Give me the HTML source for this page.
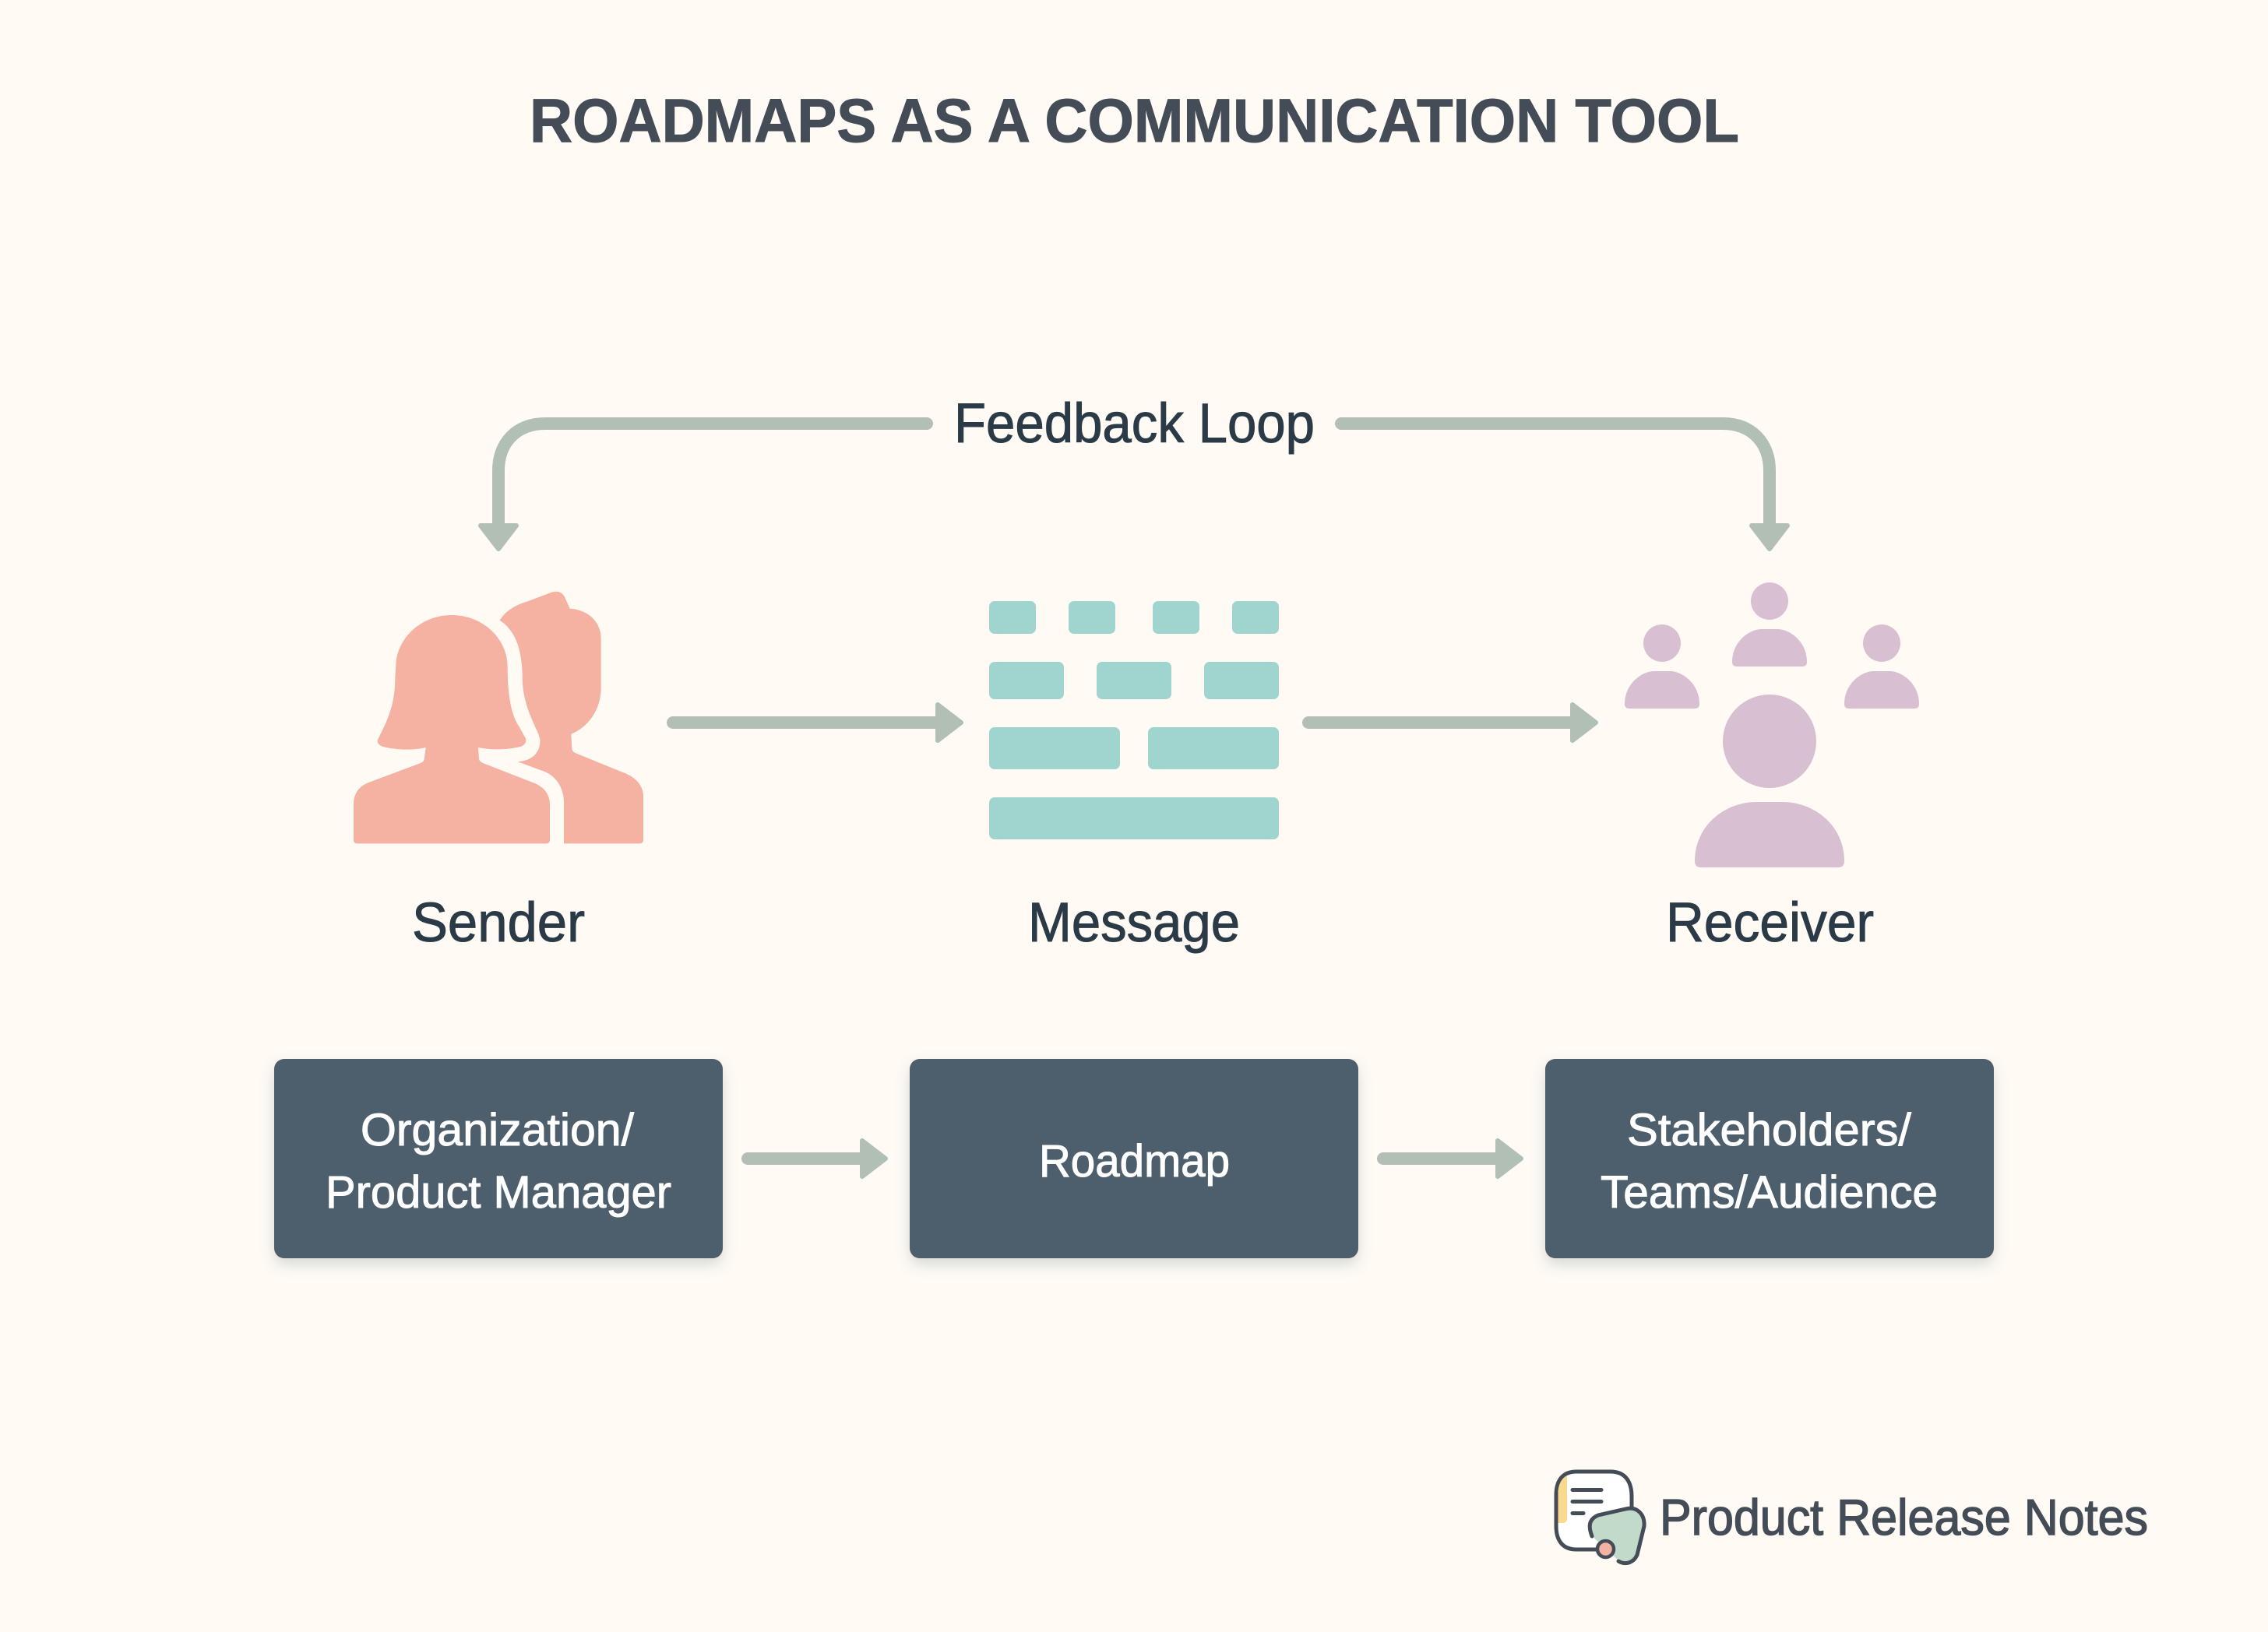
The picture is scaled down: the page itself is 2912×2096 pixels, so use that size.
<!DOCTYPE html>
<html lang="en">
<head>
<meta charset="utf-8">
<title>Roadmaps as a Communication Tool</title>
<style>
html,body{margin:0;padding:0;background:#FFFBF4;width:2912px;height:2096px;overflow:hidden}
svg{display:block}
text{font-family:"Liberation Sans",sans-serif}
</style>
</head>
<body>
<svg xmlns="http://www.w3.org/2000/svg" width="2912" height="2096" viewBox="0 0 2912 2096">
<defs>
<filter id="sh" x="-10%" y="-15%" width="120%" height="135%">
<feDropShadow dx="0" dy="8" stdDeviation="9" flood-color="#4D5E6C" flood-opacity="0.22"/>
</filter>
</defs>
<rect width="2912" height="2096" fill="#FFFBF4"/>

<text x="680" y="182" font-size="79" font-weight="700" fill="#444C57" stroke="#444C57" stroke-width="1" textLength="1553" lengthAdjust="spacingAndGlyphs">ROADMAPS AS A COMMUNICATION TOOL</text>

<!-- Feedback loop -->
<g fill="none" stroke="#B2BFB5" stroke-width="16" stroke-linecap="round">
<path d="M1190 544 L700 544 C662 544 640 570 640 604 L640 680" stroke-linecap="butt"/>
<path d="M1190 544 L1190 544"/>
<path d="M1722 544 L2212 544 C2250 544 2272 570 2272 604 L2272 680" stroke-linecap="butt"/>
<path d="M1722 544 L1722 544"/>
</g>
<g fill="#B2BFB5" stroke="#B2BFB5" stroke-width="6" stroke-linejoin="round">
<path d="M617 675 L663 675 L640 705 Z"/>
<path d="M2249 675 L2295 675 L2272 705 Z"/>
</g>
<text x="1225" y="568" font-size="71" fill="#2B3A47" stroke="#2B3A47" stroke-width="1" textLength="463" lengthAdjust="spacingAndGlyphs">Feedback Loop</text>

<!-- Sender icon -->
<g transform="translate(400 720) scale(0.33333)" fill="#F5B1A1">
<path d="M540 210 C660 210 755 300 755 410 C755 500 765 590 800 640 L825 685 Q830 705 810 715 C760 730 690 730 642 720 L645 765 Q648 775 660 780 L860 858 C900 875 918 905 918 940 L918 1075 Q918 1090 903 1090 L177 1090 Q162 1090 162 1075 L162 940 C162 900 180 870 220 855 L420 780 Q433 775 434 765 L440 720 C390 732 320 730 270 715 Q250 705 255 690 C290 620 322 560 322 450 L325 400 C330 300 420 210 540 210 Z"/>
<path d="M725 230 C750 190 790 170 830 158 L925 122 Q960 112 975 140 L995 185 C1070 190 1115 240 1115 300 L1115 490 C1115 570 1070 640 1000 668 L1003 725 Q1005 738 1020 743 L1210 820 C1255 840 1278 870 1278 910 L1278 1075 Q1278 1090 1263 1090 L972 1090 L972 930 C970 870 940 830 895 812 L795 775 C850 770 882 740 880 690 C875 650 810 570 812 440 C810 340 785 270 725 230 Z"/>
</g>

<!-- Message icon -->
<g fill="#A0D5CF">
<rect x="1270" y="772" width="60" height="42" rx="7"/>
<rect x="1372" y="772" width="60" height="42" rx="7"/>
<rect x="1480" y="772" width="60" height="42" rx="7"/>
<rect x="1582" y="772" width="60" height="42" rx="7"/>
<rect x="1270" y="850" width="96" height="48" rx="7"/>
<rect x="1408" y="850" width="96" height="48" rx="7"/>
<rect x="1546" y="850" width="96" height="48" rx="7"/>
<rect x="1270" y="934" width="168" height="54" rx="7"/>
<rect x="1474" y="934" width="168" height="54" rx="7"/>
<rect x="1270" y="1024" width="372" height="54" rx="7"/>
</g>

<!-- Receiver icon -->
<g fill="#D8BFD1">
<circle cx="2272" cy="772" r="24"/>
<path d="M2224 850 C2224 825 2245 808 2262 808 L2282 808 C2299 808 2320 825 2320 850 Q2320 856 2314 856 L2230 856 Q2224 856 2224 850 Z"/>
<circle cx="2134" cy="826" r="24"/>
<path d="M2086 904 C2086 879 2107 862 2124 862 L2144 862 C2161 862 2182 879 2182 904 Q2182 910 2176 910 L2092 910 Q2086 910 2086 904 Z"/>
<circle cx="2416" cy="826" r="24"/>
<path d="M2368 904 C2368 879 2389 862 2406 862 L2426 862 C2443 862 2464 879 2464 904 Q2464 910 2458 910 L2374 910 Q2368 910 2368 904 Z"/>
<circle cx="2272" cy="952" r="60"/>
<path d="M2176 1106 C2176 1060 2215 1030 2255 1030 L2289 1030 C2329 1030 2368 1060 2368 1106 Q2368 1114 2360 1114 L2184 1114 Q2176 1114 2176 1106 Z"/>
</g>

<!-- Horizontal arrows -->
<g fill="none" stroke="#B2BFB5" stroke-width="16" stroke-linecap="round">
<path d="M864 928 L1210 928"/>
<path d="M1680 928 L2025 928"/>
<path d="M960 1488 L1115 1488"/>
<path d="M1776 1488 L1930 1488"/>
</g>
<g fill="#B2BFB5" stroke="#B2BFB5" stroke-width="6" stroke-linejoin="round">
<path d="M1204 905 L1234 928 L1204 951 Z"/>
<path d="M2019 905 L2049 928 L2019 951 Z"/>
<path d="M1107 1465 L1137 1488 L1107 1511 Z"/>
<path d="M1923 1465 L1953 1488 L1923 1511 Z"/>
</g>

<!-- Labels -->
<g font-size="71" fill="#2B3A47" stroke="#2B3A47" stroke-width="1">
<text x="529" y="1209" textLength="222" lengthAdjust="spacingAndGlyphs">Sender</text>
<text x="1320" y="1209" textLength="272" lengthAdjust="spacingAndGlyphs">Message</text>
<text x="2139" y="1209" textLength="267" lengthAdjust="spacingAndGlyphs">Receiver</text>
</g>

<!-- Boxes -->
<g fill="#4D5E6C" filter="url(#sh)">
<rect x="352" y="1360" width="576" height="256" rx="13"/>
<rect x="1168" y="1360" width="576" height="256" rx="13"/>
<rect x="1984" y="1360" width="576" height="256" rx="13"/>
</g>
<g font-size="58" fill="#FFFFFF" stroke="#FFFFFF" stroke-width="1">
<text x="463" y="1471" textLength="351" lengthAdjust="spacingAndGlyphs">Organization/</text>
<text x="418" y="1551" textLength="444" lengthAdjust="spacingAndGlyphs">Product Manager</text>
<text x="1334" y="1511" textLength="245" lengthAdjust="spacingAndGlyphs">Roadmap</text>
<text x="2089" y="1471" textLength="365" lengthAdjust="spacingAndGlyphs">Stakeholders/</text>
<text x="2055" y="1551" textLength="433" lengthAdjust="spacingAndGlyphs">Teams/Audience</text>
</g>

<!-- Logo -->
<path d="M2024 1890 L2068 1890 C2086 1890 2095 1902 2095 1922 L2095 1960 C2095 1978 2090 1990 2068 1990 L2024 1990 C2006 1990 1998 1978 1998 1960 L1998 1920 C1998 1902 2006 1890 2024 1890 Z" fill="#FFFFFF" stroke="#444C57" stroke-width="5"/>
<path d="M2000.5 1956 L2006 1956 Q2012 1956 2012 1950 L2012 1895 Q2002 1900 2000.5 1915 Z" fill="#FAD98F"/>
<g stroke="#444C57" stroke-width="5" stroke-linecap="round" fill="none">
<path d="M2019 1913.5 L2056 1913.5"/>
<path d="M2019 1928.5 L2056 1928.5"/>
<path d="M2019 1943.5 L2033 1943.5"/>
</g>
<path d="M2044 1973 C2039 1960 2040 1951 2052 1946 L2086 1939 C2102 1934 2112 1945 2111 1960 L2101 1997 C2097 2006 2089 2010 2079 2005 Z" fill="#C2DACA"/>
<path d="M2044 1973 C2039 1960 2040 1951 2052 1946 L2087 1938 C2102 1934 2112 1945 2111 1960 L2102 1997 C2098 2006 2088 2011 2078 2005" fill="none" stroke="#444C57" stroke-width="5" stroke-linecap="round"/>
<circle cx="2061.5" cy="1989.5" r="10.5" fill="#F5B1A1" stroke="#444C57" stroke-width="4.5"/>
<text x="2131" y="1971" font-size="65" fill="#444C57" stroke="#444C57" stroke-width="1.5" textLength="627" lengthAdjust="spacingAndGlyphs">Product Release Notes</text>
</svg>
</body>
</html>
